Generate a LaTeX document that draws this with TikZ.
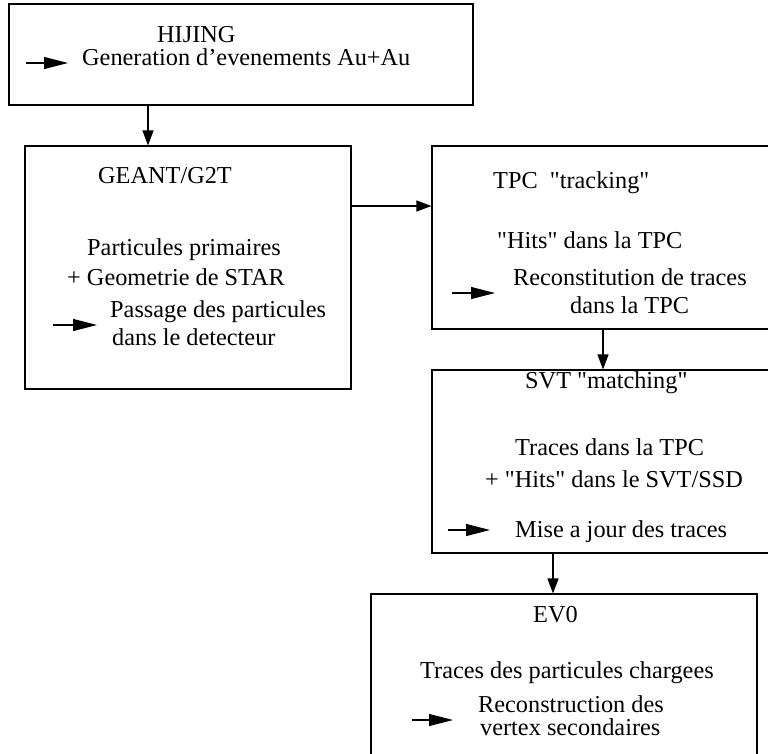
\documentclass[tikz,border=0pt]{standalone}
\usepackage{fontspec}
\setmainfont{Liberation Serif}[Ligatures=TeXOff]
\usetikzlibrary{arrows.meta,calc}

\tikzset{
  box/.style={draw,line width=1.1pt,inner sep=0pt},
  txt/.style={anchor=base west,inner sep=0pt,font=\fontsize{24.3}{29}\selectfont},
  flow/.style={line width=1.1pt,-{Triangle[length=15pt,width=11pt]}},
  bullet/.style={line width=1.1pt,-{Triangle[length=24pt,width=12pt]}}
}

\begin{document}
\begin{tikzpicture}[x=1pt,y=-1pt]
  \clip (0,0) rectangle (768,753);
  \node[box,minimum width=464,minimum height=101] (hijing) at (241,54.5) {};
  \node[box,minimum width=326,minimum height=243] (geant) at (188,267.5) {};
  \node[box,minimum width=368,minimum height=183] (tpc) at (616,237.5) {};
  \node[box,minimum width=368,minimum height=183] (svt) at (616,461.5) {};
  \node[box,minimum width=386,minimum height=206] (ev0) at (564,697) {};

  \node[txt] (hijing-t) at (157,42) {HIJING};
  \node[txt] (hijing-1) at (82,65) {Generation d’evenements Au+Au};

  \node[txt] (geant-t) at (98,183) {GEANT/G2T};
  \node[txt] (geant-1) at (87,255) {Particules primaires};
  \node[txt] (geant-2) at (67,285) {+ Geometrie de STAR};
  \node[txt] (geant-3) at (110,317) {Passage des particules};
  \node[txt] (geant-4) at (112,345) {dans le detecteur};

  \node[txt] (tpc-t) at (493,188) {TPC\ \ "tracking"};
  \node[txt] (tpc-1) at (497,248) {"Hits" dans la TPC};
  \node[txt] (tpc-2) at (513,285) {Reconstitution de traces};
  \node[txt] (tpc-3) at (570,313) {dans la TPC};

  \node[txt] (svt-t) at (525,388) {SVT "matching"};
  \node[txt] (svt-1) at (515,455) {Traces dans la TPC};
  \node[txt] (svt-2) at (485,487) {+ "Hits" dans le SVT/SSD};
  \node[txt] (svt-3) at (515,537) {Mise a jour des traces};

  \node[txt] (ev0-t) at (533,622) {EV0};
  \node[txt] (ev0-1) at (420,678) {Traces des particules chargees};
  \node[txt] (ev0-2) at (478,712) {Reconstruction des};
  \node[txt] (ev0-3) at (480,735) {vertex secondaires};

  \foreach \x/\y/\l in {26/63/42, 53/325/44, 452/293/43, 448/530/42, 412/720/41}
    \draw[bullet] (\x,\y) -- ++(\l,0);

  \coordinate (c1) at (148,0);
  \coordinate (c2) at (0,206);
  \coordinate (c3) at (603,0);
  \coordinate (c4) at (553,0);
  \draw[flow] (hijing.south -| c1) -- (geant.north -| c1);
  \draw[flow] (geant.east |- c2) -- (tpc.west |- c2);
  \draw[flow] (tpc.south -| c3) -- (svt.north -| c3);
  \draw[flow] (svt.south -| c4) -- (ev0.north -| c4);
\end{tikzpicture}
\end{document}
